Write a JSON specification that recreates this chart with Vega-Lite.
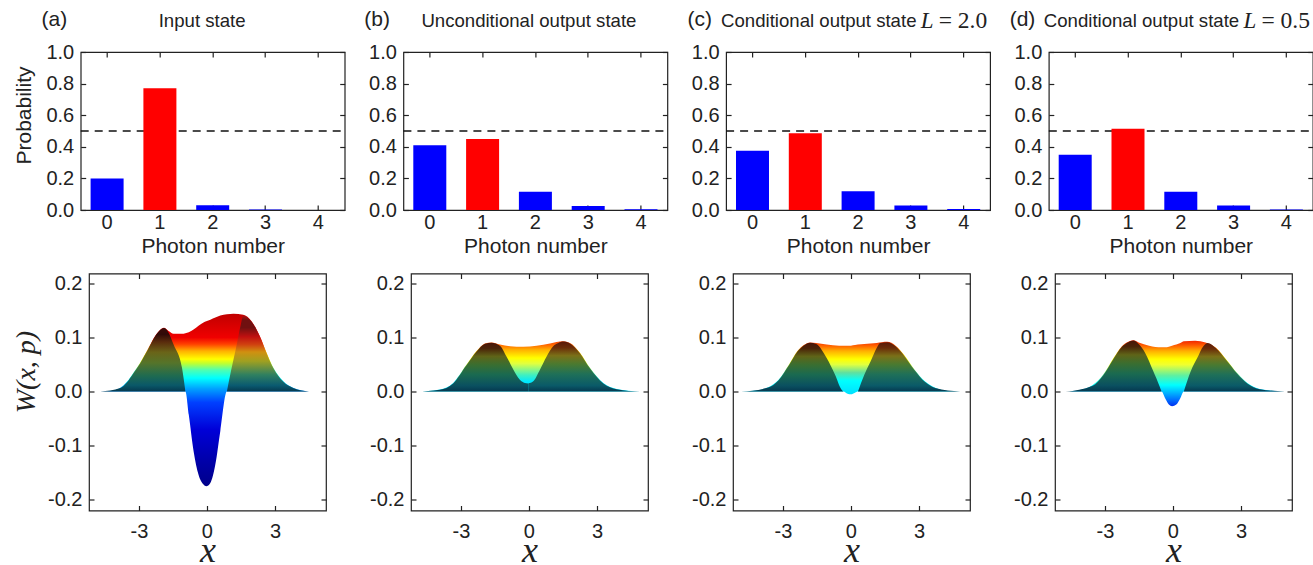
{
"$schema":"https://vega.github.io/schema/vega-lite/v6.json",
"padding":{"left":3,"top":8,"right":0,"bottom":0},
"background":"white",
"bounds":"flush",
"spacing":221.5,
"config":{
"view":{"stroke":"#222","strokeWidth":1.2},
"font":"Liberation Sans",
"title":{"font":"Liberation Sans","fontSize":18.6,"fontWeight":"normal","color":"#222","anchor":"start","frame":"group","baseline":"alphabetic","offset":-21},
"axis":{"grid":false,"domain":false,"tickColor":"#222","tickWidth":1.2,"tickSize":-5,"labelFont":"Liberation Sans","labelFontSize":20,"labelColor":"#222","titleFont":"Liberation Sans","titleFontWeight":"normal","titleFontSize":21,"titleColor":"#222","labelFlush":false,"labelOverlap":false}
},
"datasets":{
"bars":[
{"panel":"a","n":"0","p":0.2},{"panel":"a","n":"1","p":0.77},{"panel":"a","n":"2","p":0.03},{"panel":"a","n":"3","p":0.003},{"panel":"a","n":"4","p":0.0005},
{"panel":"b","n":"0","p":0.41},{"panel":"b","n":"1","p":0.45},{"panel":"b","n":"2","p":0.115},{"panel":"b","n":"3","p":0.025},{"panel":"b","n":"4","p":0.004},
{"panel":"c","n":"0","p":0.375},{"panel":"c","n":"1","p":0.485},{"panel":"c","n":"2","p":0.118},{"panel":"c","n":"3","p":0.028},{"panel":"c","n":"4","p":0.006},
{"panel":"d","n":"0","p":0.35},{"panel":"d","n":"1","p":0.515},{"panel":"d","n":"2","p":0.115},{"panel":"d","n":"3","p":0.028},{"panel":"d","n":"4","p":0.003}
],
"surface":[
{"panel":"a","part":"body","x":-4.7,"top":0,"bottom":0},{"panel":"a","part":"body","x":-4.1,"top":0.002,"bottom":0},{"panel":"a","part":"body","x":-3.82,"top":0.007,"bottom":0},{"panel":"a","part":"body","x":-3.53,"top":0.018,"bottom":0},{"panel":"a","part":"body","x":-3.24,"top":0.035,"bottom":0},{"panel":"a","part":"body","x":-2.95,"top":0.053,"bottom":0},{"panel":"a","part":"body","x":-2.65,"top":0.075,"bottom":0},{"panel":"a","part":"body","x":-2.2,"top":0.108,"bottom":0},{"panel":"a","part":"body","x":-1.9,"top":0.118,"bottom":0},{"panel":"a","part":"body","x":-1.69,"top":0.112,"bottom":0},{"panel":"a","part":"body","x":-1.47,"top":0.107,"bottom":0},{"panel":"a","part":"body","x":-1.03,"top":0.107,"bottom":0},{"panel":"a","part":"body","x":-0.95,"top":0.108,"bottom":0},{"panel":"a","part":"body","x":-0.8,"top":0.11,"bottom":-0.043},{"panel":"a","part":"body","x":-0.59,"top":0.115,"bottom":-0.11},{"panel":"a","part":"body","x":-0.37,"top":0.122,"bottom":-0.154},{"panel":"a","part":"body","x":-0.15,"top":0.128,"bottom":-0.172},{"panel":"a","part":"body","x":-0.03,"top":0.13,"bottom":-0.175},{"panel":"a","part":"body","x":0.15,"top":0.133,"bottom":-0.169},{"panel":"a","part":"body","x":0.37,"top":0.137,"bottom":-0.135},{"panel":"a","part":"body","x":0.59,"top":0.141,"bottom":-0.073},{"panel":"a","part":"body","x":0.88,"top":0.143,"bottom":0},{"panel":"a","part":"body","x":1.17,"top":0.144,"bottom":0},{"panel":"a","part":"body","x":1.6,"top":0.142,"bottom":0},{"panel":"a","part":"body","x":1.97,"top":0.13,"bottom":0},{"panel":"a","part":"body","x":2.34,"top":0.102,"bottom":0},{"panel":"a","part":"body","x":2.63,"top":0.072,"bottom":0},{"panel":"a","part":"body","x":2.93,"top":0.044,"bottom":0},{"panel":"a","part":"body","x":3.37,"top":0.019,"bottom":0},{"panel":"a","part":"body","x":3.8,"top":0.007,"bottom":0},{"panel":"a","part":"body","x":4.5,"top":0,"bottom":0},
{"panel":"a","part":"left","x":-4.7,"top":0,"bottom":0},{"panel":"a","part":"left","x":-3.82,"top":0.0065,"bottom":0},{"panel":"a","part":"left","x":-3.53,"top":0.017,"bottom":0},{"panel":"a","part":"left","x":-3.24,"top":0.034,"bottom":0},{"panel":"a","part":"left","x":-2.95,"top":0.052,"bottom":0},{"panel":"a","part":"left","x":-2.65,"top":0.074,"bottom":0},{"panel":"a","part":"left","x":-2.2,"top":0.1075,"bottom":0},{"panel":"a","part":"left","x":-1.9,"top":0.1175,"bottom":0},{"panel":"a","part":"left","x":-1.69,"top":0.109,"bottom":0},{"panel":"a","part":"left","x":-1.47,"top":0.087,"bottom":0},{"panel":"a","part":"left","x":-1.1,"top":0.044,"bottom":0},{"panel":"a","part":"left","x":-0.95,"top":0,"bottom":0},
{"panel":"a","part":"right","x":0.88,"top":0,"bottom":0},{"panel":"a","part":"right","x":1.06,"top":0.038,"bottom":0},{"panel":"a","part":"right","x":1.28,"top":0.08,"bottom":0},{"panel":"a","part":"right","x":1.5,"top":0.125,"bottom":0},{"panel":"a","part":"right","x":1.6,"top":0.141,"bottom":0},{"panel":"a","part":"right","x":1.97,"top":0.129,"bottom":0},{"panel":"a","part":"right","x":2.34,"top":0.101,"bottom":0},{"panel":"a","part":"right","x":2.63,"top":0.071,"bottom":0},{"panel":"a","part":"right","x":2.93,"top":0.043,"bottom":0},{"panel":"a","part":"right","x":3.37,"top":0.018,"bottom":0},{"panel":"a","part":"right","x":3.8,"top":0.0065,"bottom":0},{"panel":"a","part":"right","x":4.5,"top":0,"bottom":0},

{"panel":"b","part":"body","x":-4.96,"top":0,"bottom":0},{"panel":"b","part":"body","x":-3.93,"top":0.004,"bottom":0},{"panel":"b","part":"body","x":-3.34,"top":0.016,"bottom":0},{"panel":"b","part":"body","x":-2.75,"top":0.05,"bottom":0},{"panel":"b","part":"body","x":-2.31,"top":0.075,"bottom":0},{"panel":"b","part":"body","x":-1.94,"top":0.089,"bottom":0},{"panel":"b","part":"body","x":-1.65,"top":0.091,"bottom":0},{"panel":"b","part":"body","x":-1.28,"top":0.087,"bottom":0},{"panel":"b","part":"body","x":-0.84,"top":0.084,"bottom":0},{"panel":"b","part":"body","x":-0.25,"top":0.083,"bottom":0},{"panel":"b","part":"body","x":0.34,"top":0.085,"bottom":0},{"panel":"b","part":"body","x":0.93,"top":0.089,"bottom":0},{"panel":"b","part":"body","x":1.51,"top":0.093,"bottom":0},{"panel":"b","part":"body","x":1.81,"top":0.09,"bottom":0},{"panel":"b","part":"body","x":2.25,"top":0.072,"bottom":0},{"panel":"b","part":"body","x":2.69,"top":0.044,"bottom":0},{"panel":"b","part":"body","x":3.28,"top":0.016,"bottom":0},{"panel":"b","part":"body","x":3.87,"top":0.005,"bottom":0},{"panel":"b","part":"body","x":4.9,"top":0,"bottom":0},
{"panel":"b","part":"left","x":-4.96,"top":0,"bottom":0},{"panel":"b","part":"left","x":-3.93,"top":0.0035,"bottom":0},{"panel":"b","part":"left","x":-3.34,"top":0.015,"bottom":0},{"panel":"b","part":"left","x":-2.75,"top":0.049,"bottom":0},{"panel":"b","part":"left","x":-2.31,"top":0.074,"bottom":0},{"panel":"b","part":"left","x":-1.94,"top":0.0885,"bottom":0},{"panel":"b","part":"left","x":-1.65,"top":0.0905,"bottom":0},{"panel":"b","part":"left","x":-1.28,"top":0.085,"bottom":0},{"panel":"b","part":"left","x":-0.99,"top":0.065,"bottom":0},{"panel":"b","part":"left","x":-0.69,"top":0.041,"bottom":0},{"panel":"b","part":"left","x":-0.4,"top":0.022,"bottom":0},{"panel":"b","part":"left","x":-0.18,"top":0.016,"bottom":0},{"panel":"b","part":"left","x":-0.03,"top":0.015,"bottom":0},
{"panel":"b","part":"right","x":-0.03,"top":0.015,"bottom":0},{"panel":"b","part":"right","x":0.19,"top":0.019,"bottom":0},{"panel":"b","part":"right","x":0.49,"top":0.041,"bottom":0},{"panel":"b","part":"right","x":0.78,"top":0.065,"bottom":0},{"panel":"b","part":"right","x":1.07,"top":0.084,"bottom":0},{"panel":"b","part":"right","x":1.3,"top":0.09,"bottom":0},{"panel":"b","part":"right","x":1.51,"top":0.0925,"bottom":0},{"panel":"b","part":"right","x":1.81,"top":0.089,"bottom":0},{"panel":"b","part":"right","x":2.25,"top":0.071,"bottom":0},{"panel":"b","part":"right","x":2.69,"top":0.043,"bottom":0},{"panel":"b","part":"right","x":3.28,"top":0.015,"bottom":0},{"panel":"b","part":"right","x":3.87,"top":0.0045,"bottom":0},{"panel":"b","part":"right","x":4.9,"top":0,"bottom":0},

{"panel":"c","part":"body","x":-4.84,"top":0,"bottom":0},{"panel":"c","part":"body","x":-4.2,"top":0.002,"bottom":0},{"panel":"c","part":"body","x":-3.65,"top":0.008,"bottom":0},{"panel":"c","part":"body","x":-3.19,"top":0.022,"bottom":0},{"panel":"c","part":"body","x":-2.73,"top":0.05,"bottom":0},{"panel":"c","part":"body","x":-2.36,"top":0.075,"bottom":0},{"panel":"c","part":"body","x":-2.08,"top":0.086,"bottom":0},{"panel":"c","part":"body","x":-1.8,"top":0.091,"bottom":0},{"panel":"c","part":"body","x":-1.53,"top":0.09,"bottom":0},{"panel":"c","part":"body","x":-1.07,"top":0.087,"bottom":0},{"panel":"c","part":"body","x":-0.52,"top":0.085,"bottom":0},{"panel":"c","part":"body","x":-0.33,"top":0.085,"bottom":0},{"panel":"c","part":"body","x":-0.15,"top":0.085,"bottom":-0.004},{"panel":"c","part":"body","x":0,"top":0.085,"bottom":-0.005},{"panel":"c","part":"body","x":0.18,"top":0.086,"bottom":-0.002},{"panel":"c","part":"body","x":0.31,"top":0.087,"bottom":0},{"panel":"c","part":"body","x":0.59,"top":0.088,"bottom":0},{"panel":"c","part":"body","x":1.14,"top":0.09,"bottom":0},{"panel":"c","part":"body","x":1.6,"top":0.092,"bottom":0},{"panel":"c","part":"body","x":1.97,"top":0.085,"bottom":0},{"panel":"c","part":"body","x":2.34,"top":0.068,"bottom":0},{"panel":"c","part":"body","x":2.8,"top":0.041,"bottom":0},{"panel":"c","part":"body","x":3.26,"top":0.019,"bottom":0},{"panel":"c","part":"body","x":3.72,"top":0.007,"bottom":0},{"panel":"c","part":"body","x":4.27,"top":0.001,"bottom":0},{"panel":"c","part":"body","x":4.82,"top":0,"bottom":0},
{"panel":"c","part":"left","x":-4.84,"top":0,"bottom":0},{"panel":"c","part":"left","x":-3.65,"top":0.0075,"bottom":0},{"panel":"c","part":"left","x":-3.19,"top":0.021,"bottom":0},{"panel":"c","part":"left","x":-2.73,"top":0.049,"bottom":0},{"panel":"c","part":"left","x":-2.36,"top":0.074,"bottom":0},{"panel":"c","part":"left","x":-2.08,"top":0.0855,"bottom":0},{"panel":"c","part":"left","x":-1.8,"top":0.0905,"bottom":0},{"panel":"c","part":"left","x":-1.53,"top":0.088,"bottom":0},{"panel":"c","part":"left","x":-1.07,"top":0.062,"bottom":0},{"panel":"c","part":"left","x":-0.7,"top":0.031,"bottom":0},{"panel":"c","part":"left","x":-0.42,"top":0.004,"bottom":0},{"panel":"c","part":"left","x":-0.33,"top":0,"bottom":0},
{"panel":"c","part":"right","x":0.31,"top":0,"bottom":0},{"panel":"c","part":"right","x":0.59,"top":0.031,"bottom":0},{"panel":"c","part":"right","x":0.87,"top":0.056,"bottom":0},{"panel":"c","part":"right","x":1.14,"top":0.081,"bottom":0},{"panel":"c","part":"right","x":1.29,"top":0.09,"bottom":0},{"panel":"c","part":"right","x":1.6,"top":0.0915,"bottom":0},{"panel":"c","part":"right","x":1.97,"top":0.084,"bottom":0},{"panel":"c","part":"right","x":2.34,"top":0.067,"bottom":0},{"panel":"c","part":"right","x":2.8,"top":0.04,"bottom":0},{"panel":"c","part":"right","x":3.26,"top":0.018,"bottom":0},{"panel":"c","part":"right","x":3.72,"top":0.0065,"bottom":0},{"panel":"c","part":"right","x":4.82,"top":0,"bottom":0},

{"panel":"d","part":"body","x":-4.73,"top":0,"bottom":0},{"panel":"d","part":"body","x":-4.1,"top":0.003,"bottom":0},{"panel":"d","part":"body","x":-3.54,"top":0.012,"bottom":0},{"panel":"d","part":"body","x":-3.08,"top":0.031,"bottom":0},{"panel":"d","part":"body","x":-2.62,"top":0.062,"bottom":0},{"panel":"d","part":"body","x":-2.25,"top":0.084,"bottom":0},{"panel":"d","part":"body","x":-1.97,"top":0.092,"bottom":0},{"panel":"d","part":"body","x":-1.75,"top":0.095,"bottom":0},{"panel":"d","part":"body","x":-1.51,"top":0.091,"bottom":0},{"panel":"d","part":"body","x":-1.05,"top":0.085,"bottom":0},{"panel":"d","part":"body","x":-0.5,"top":0.082,"bottom":0},{"panel":"d","part":"body","x":-0.35,"top":0.082,"bottom":-0.012},{"panel":"d","part":"body","x":-0.18,"top":0.083,"bottom":-0.024},{"panel":"d","part":"body","x":-0.04,"top":0.085,"bottom":-0.027},{"panel":"d","part":"body","x":0.15,"top":0.087,"bottom":-0.024},{"panel":"d","part":"body","x":0.33,"top":0.09,"bottom":-0.012},{"panel":"d","part":"body","x":0.48,"top":0.093,"bottom":0},{"panel":"d","part":"body","x":0.98,"top":0.094,"bottom":0},{"panel":"d","part":"body","x":1.44,"top":0.091,"bottom":0},{"panel":"d","part":"body","x":1.9,"top":0.081,"bottom":0},{"panel":"d","part":"body","x":2.36,"top":0.059,"bottom":0},{"panel":"d","part":"body","x":2.82,"top":0.035,"bottom":0},{"panel":"d","part":"body","x":3.28,"top":0.016,"bottom":0},{"panel":"d","part":"body","x":3.83,"top":0.005,"bottom":0},{"panel":"d","part":"body","x":4.94,"top":0,"bottom":0},
{"panel":"d","part":"left","x":-4.73,"top":0,"bottom":0},{"panel":"d","part":"left","x":-3.54,"top":0.011,"bottom":0},{"panel":"d","part":"left","x":-3.08,"top":0.03,"bottom":0},{"panel":"d","part":"left","x":-2.62,"top":0.061,"bottom":0},{"panel":"d","part":"left","x":-2.25,"top":0.083,"bottom":0},{"panel":"d","part":"left","x":-1.97,"top":0.0915,"bottom":0},{"panel":"d","part":"left","x":-1.75,"top":0.0945,"bottom":0},{"panel":"d","part":"left","x":-1.51,"top":0.088,"bottom":0},{"panel":"d","part":"left","x":-1.23,"top":0.072,"bottom":0},{"panel":"d","part":"left","x":-0.87,"top":0.038,"bottom":0},{"panel":"d","part":"left","x":-0.59,"top":0.01,"bottom":0},{"panel":"d","part":"left","x":-0.5,"top":0,"bottom":0},
{"panel":"d","part":"right","x":0.48,"top":0,"bottom":0},{"panel":"d","part":"right","x":0.79,"top":0.038,"bottom":0},{"panel":"d","part":"right","x":1.07,"top":0.062,"bottom":0},{"panel":"d","part":"right","x":1.34,"top":0.084,"bottom":0},{"panel":"d","part":"right","x":1.53,"top":0.09,"bottom":0},{"panel":"d","part":"right","x":1.9,"top":0.08,"bottom":0},{"panel":"d","part":"right","x":2.36,"top":0.058,"bottom":0},{"panel":"d","part":"right","x":2.82,"top":0.034,"bottom":0},{"panel":"d","part":"right","x":3.28,"top":0.015,"bottom":0},{"panel":"d","part":"right","x":3.83,"top":0.0045,"bottom":0},{"panel":"d","part":"right","x":4.94,"top":0,"bottom":0}
]
},
"vconcat":[
{"hconcat":[
{"width":18.3,"height":1,"view":{"stroke":null},"data":{"values":[]},"mark":"rule","encoding":{}},
{"title":{"text":"Input state","dx":78},"width":264,"height":158,"data":{"name":"bars"},"transform":[{"filter":"datum.panel==='a'"}],
"encoding":{"x":{"field":"n","type":"nominal","axis":null,"scale":{"type":"band","domain":["0","1","2","3","4"],"paddingInner":0.375,"paddingOuter":0.1875}},"y":{"field":"p","type":"quantitative","axis":null,"scale":{"domain":[0,1]}}},
"layer":[
{"data":{"values":[{"threshold":0.5}]},"mark":{"type":"rule","color":"#111","strokeWidth":1.3,"strokeDash":[8,6]},"encoding":{"x":{"value":0},"x2":{"value":264},"y":{"field":"threshold","type":"quantitative"}}},
{"mark":{"type":"bar"},"encoding":{"x":{"field":"n","type":"nominal","title":"Photon number","axis":{"orient":"bottom","labelAngle":0,"labelPadding":7,"titlePadding":3}},"y":{"field":"p","type":"quantitative","title":"Probability","axis":{"orient":"left","values":[0,0.2,0.4,0.6,0.8,1],"format":".1f","labelPadding":12,"titleY":63,"titlePadding":11}},"color":{"field":"n","type":"nominal","legend":null,"scale":{"domain":["0","1","2","3","4"],"range":["#0000ff","#ff0000","#0000ff","#0000ff","#0000ff"]}}}},
{"mark":{"type":"bar","opacity":0},"encoding":{"x":{"field":"n","type":"nominal","axis":{"orient":"top","labels":false,"title":null}},"y":{"field":"p","type":"quantitative","axis":{"orient":"right","labels":false,"title":null,"values":[0,0.2,0.4,0.6,0.8,1]}}}},
{"data":{"values":[{"n":"0","p":1.2,"tag":"(a)"}]},"mark":{"type":"text","dx":-52.7,"baseline":"middle","font":"Liberation Sans","fontSize":21,"color":"#222"},"encoding":{"text":{"field":"tag"}}}
],"resolve":{"axis":{"x":"independent","y":"independent"}}},
{"title":{"text":"Unconditional output state","dx":18},"width":264,"height":158,"data":{"name":"bars"},"transform":[{"filter":"datum.panel==='b'"}],
"encoding":{"x":{"field":"n","type":"nominal","axis":null,"scale":{"type":"band","domain":["0","1","2","3","4"],"paddingInner":0.375,"paddingOuter":0.1875}},"y":{"field":"p","type":"quantitative","axis":null,"scale":{"domain":[0,1]}}},
"layer":[
{"data":{"values":[{"threshold":0.5}]},"mark":{"type":"rule","color":"#111","strokeWidth":1.3,"strokeDash":[8,6]},"encoding":{"x":{"value":0},"x2":{"value":264},"y":{"field":"threshold","type":"quantitative"}}},
{"mark":{"type":"bar"},"encoding":{"x":{"field":"n","type":"nominal","title":"Photon number","axis":{"orient":"bottom","labelAngle":0,"labelPadding":7,"titlePadding":3}},"y":{"field":"p","type":"quantitative","title":null,"axis":{"orient":"left","values":[0,0.2,0.4,0.6,0.8,1],"format":".1f","labelPadding":12}},"color":{"field":"n","type":"nominal","legend":null,"scale":{"domain":["0","1","2","3","4"],"range":["#0000ff","#ff0000","#0000ff","#0000ff","#0000ff"]}}}},
{"mark":{"type":"bar","opacity":0},"encoding":{"x":{"field":"n","type":"nominal","axis":{"orient":"top","labels":false,"title":null}},"y":{"field":"p","type":"quantitative","axis":{"orient":"right","labels":false,"title":null,"values":[0,0.2,0.4,0.6,0.8,1]}}}},
{"data":{"values":[{"n":"0","p":1.2,"tag":"(b)"}]},"mark":{"type":"text","dx":-52.7,"baseline":"middle","font":"Liberation Sans","fontSize":21,"color":"#222"},"encoding":{"text":{"field":"tag"}}}
],"resolve":{"axis":{"x":"independent","y":"independent"}}},
{"title":{"text":"Conditional output state","dx":-5},"width":264,"height":158,"data":{"name":"bars"},"transform":[{"filter":"datum.panel==='c'"}],
"encoding":{"x":{"field":"n","type":"nominal","axis":null,"scale":{"type":"band","domain":["0","1","2","3","4"],"paddingInner":0.375,"paddingOuter":0.1875}},"y":{"field":"p","type":"quantitative","axis":null,"scale":{"domain":[0,1]}}},
"layer":[
{"data":{"values":[{"threshold":0.5}]},"mark":{"type":"rule","color":"#111","strokeWidth":1.3,"strokeDash":[8,6]},"encoding":{"x":{"value":0},"x2":{"value":264},"y":{"field":"threshold","type":"quantitative"}}},
{"mark":{"type":"bar"},"encoding":{"x":{"field":"n","type":"nominal","title":"Photon number","axis":{"orient":"bottom","labelAngle":0,"labelPadding":7,"titlePadding":3}},"y":{"field":"p","type":"quantitative","title":null,"axis":{"orient":"left","values":[0,0.2,0.4,0.6,0.8,1],"format":".1f","labelPadding":12}},"color":{"field":"n","type":"nominal","legend":null,"scale":{"domain":["0","1","2","3","4"],"range":["#0000ff","#ff0000","#0000ff","#0000ff","#0000ff"]}}}},
{"mark":{"type":"bar","opacity":0},"encoding":{"x":{"field":"n","type":"nominal","axis":{"orient":"top","labels":false,"title":null}},"y":{"field":"p","type":"quantitative","axis":{"orient":"right","labels":false,"title":null,"values":[0,0.2,0.4,0.6,0.8,1]}}}},
{"data":{"values":[{"n":"0","p":1.2,"tag":"(c)"}]},"mark":{"type":"text","dx":-52.7,"baseline":"middle","font":"Liberation Sans","fontSize":21,"color":"#222"},"encoding":{"text":{"field":"tag"}}},
{"data":{"values":[{"n":"4","p":1.15,"tag":"L"}]},"mark":{"type":"text","dx":-43,"align":"left","baseline":"alphabetic","font":"Liberation Serif","fontStyle":"italic","fontSize":23,"color":"#222"},"encoding":{"text":{"field":"tag"}}},
{"data":{"values":[{"n":"4","p":1.15,"tag":"= 2.0"}]},"mark":{"type":"text","dx":-25,"align":"left","baseline":"alphabetic","font":"Liberation Serif","fontSize":23.5,"color":"#222"},"encoding":{"text":{"field":"tag"}}}
],"resolve":{"axis":{"x":"independent","y":"independent"}}},
{"title":{"text":"Conditional output state","dx":-5},"width":264,"height":158,"data":{"name":"bars"},"transform":[{"filter":"datum.panel==='d'"}],
"encoding":{"x":{"field":"n","type":"nominal","axis":null,"scale":{"type":"band","domain":["0","1","2","3","4"],"paddingInner":0.375,"paddingOuter":0.1875}},"y":{"field":"p","type":"quantitative","axis":null,"scale":{"domain":[0,1]}}},
"layer":[
{"data":{"values":[{"threshold":0.5}]},"mark":{"type":"rule","color":"#111","strokeWidth":1.3,"strokeDash":[8,6]},"encoding":{"x":{"value":0},"x2":{"value":264},"y":{"field":"threshold","type":"quantitative"}}},
{"mark":{"type":"bar"},"encoding":{"x":{"field":"n","type":"nominal","title":"Photon number","axis":{"orient":"bottom","labelAngle":0,"labelPadding":7,"titlePadding":3}},"y":{"field":"p","type":"quantitative","title":null,"axis":{"orient":"left","values":[0,0.2,0.4,0.6,0.8,1],"format":".1f","labelPadding":12}},"color":{"field":"n","type":"nominal","legend":null,"scale":{"domain":["0","1","2","3","4"],"range":["#0000ff","#ff0000","#0000ff","#0000ff","#0000ff"]}}}},
{"mark":{"type":"bar","opacity":0},"encoding":{"x":{"field":"n","type":"nominal","axis":{"orient":"top","labels":false,"title":null}},"y":{"field":"p","type":"quantitative","axis":{"orient":"right","labels":false,"title":null,"values":[0,0.2,0.4,0.6,0.8,1]}}}},
{"data":{"values":[{"n":"0","p":1.2,"tag":"(d)"}]},"mark":{"type":"text","dx":-52.7,"baseline":"middle","font":"Liberation Sans","fontSize":21,"color":"#222"},"encoding":{"text":{"field":"tag"}}},
{"data":{"values":[{"n":"4","p":1.15,"tag":"L"}]},"mark":{"type":"text","dx":-43,"align":"left","baseline":"alphabetic","font":"Liberation Serif","fontStyle":"italic","fontSize":23,"color":"#222"},"encoding":{"text":{"field":"tag"}}},
{"data":{"values":[{"n":"4","p":1.15,"tag":"= 0.5"}]},"mark":{"type":"text","dx":-25,"align":"left","baseline":"alphabetic","font":"Liberation Serif","fontSize":23.5,"color":"#222"},"encoding":{"text":{"field":"tag"}}}
],"resolve":{"axis":{"x":"independent","y":"independent"}}}
],"bounds":"flush","spacing":58.7},
{"hconcat":[
{"width":1,"height":1,"view":{"stroke":null},"data":{"values":[]},"mark":"rule","encoding":{}},
{"width":237,"height":237,"data":{"name":"surface"},"transform":[{"filter":"datum.panel==='a'"}],
"encoding":{"x":{"field":"x","type":"quantitative","axis":null,"scale":{"domain":[-5.2,5.25]}},"y":{"field":"top","type":"quantitative","axis":null,"scale":{"domain":[-0.22,0.2185]}},"y2":{"field":"bottom"}},
"layer":[
{"transform":[{"filter":"datum.part==='body'"}],"mark":{"type":"area","interpolate":"monotone","color":{"gradient":"linear","x1":0,"y1":1,"x2":0,"y2":0,"stops":[{"offset":0,"color":"#00008a"},{"offset":0.141,"color":"#0000a8"},{"offset":0.329,"color":"#0000d8"},{"offset":0.486,"color":"#0040ff"},{"offset":0.564,"color":"#00a0ff"},{"offset":0.627,"color":"#00ffff"},{"offset":0.674,"color":"#50ffb0"},{"offset":0.712,"color":"#c0ff30"},{"offset":0.737,"color":"#ffff00"},{"offset":0.784,"color":"#ffb000"},{"offset":0.824,"color":"#ff4000"},{"offset":0.862,"color":"#f00000"},{"offset":1,"color":"#c00000"}]}},
"encoding":{"x":{"field":"x","type":"quantitative","title":"x","axis":{"orient":"bottom","values":[-3,0,3],"labelPadding":16,"labelExpr":"replace(format(datum.value,'d'),'\u2212','-')","titleFont":"Liberation Serif","titleFontStyle":"italic","titleFontSize":36,"titlePadding":-8}},"y":{"field":"top","type":"quantitative","title":"W(x, p)","axis":{"orient":"left","values":[-0.2,-0.1,0,0.1,0.2],"labelExpr":"replace(format(datum.value,'.1f'),'\u2212','-')","labelPadding":12,"titleFont":"Liberation Serif","titleFontStyle":"italic","titleFontSize":28,"titlePadding":7,"titleY":98}}}},
{"transform":[{"filter":"datum.part==='left'"}],"mark":{"type":"area","interpolate":"monotone","color":{"gradient":"linear","x1":0,"y1":1,"x2":0,"y2":0,"stops":[{"offset":0,"color":"#05384f"},{"offset":0.1,"color":"#0a5868"},{"offset":0.25,"color":"#1f6b50"},{"offset":0.45,"color":"#55742a"},{"offset":0.62,"color":"#6a6418"},{"offset":0.78,"color":"#5a2c0c"},{"offset":0.9,"color":"#300a08"},{"offset":1,"color":"#3a0a08"}]}}},
{"transform":[{"filter":"datum.part==='right'"}],"mark":{"type":"area","interpolate":"monotone","color":{"gradient":"linear","x1":0,"y1":1,"x2":0,"y2":0,"stops":[{"offset":0,"color":"#05384f"},{"offset":0.08,"color":"#0a5a70"},{"offset":0.22,"color":"#2f8060"},{"offset":0.4,"color":"#a0a020"},{"offset":0.52,"color":"#d09010"},{"offset":0.62,"color":"#d04010"},{"offset":0.72,"color":"#c01010"},{"offset":0.84,"color":"#701010"},{"offset":0.94,"color":"#701010"},{"offset":1,"color":"#b01010"}]}}},
{"transform":[{"filter":"datum.part==='body'"}],"mark":{"type":"area","opacity":0},"encoding":{"x":{"field":"x","type":"quantitative","axis":{"orient":"top","labels":false,"title":null,"values":[-3,0,3]}},"y":{"field":"top","type":"quantitative","axis":{"orient":"right","labels":false,"title":null,"values":[-0.2,-0.1,0,0.1,0.2]}}}}
],"resolve":{"axis":{"x":"independent","y":"independent"}}},
{"width":237,"height":237,"data":{"name":"surface"},"transform":[{"filter":"datum.panel==='b'"}],
"encoding":{"x":{"field":"x","type":"quantitative","axis":null,"scale":{"domain":[-5.2,5.25]}},"y":{"field":"top","type":"quantitative","axis":null,"scale":{"domain":[-0.22,0.2185]}},"y2":{"field":"bottom"}},
"layer":[
{"transform":[{"filter":"datum.part==='body'"}],"mark":{"type":"area","interpolate":"monotone","color":{"gradient":"linear","x1":0,"y1":1,"x2":0,"y2":0,"stops":[{"offset":0,"color":"#00e8ff"},{"offset":0.2,"color":"#00e8ff"},{"offset":0.33,"color":"#40f0c0"},{"offset":0.556,"color":"#e0ff40"},{"offset":0.667,"color":"#ffff00"},{"offset":0.833,"color":"#ffb000"},{"offset":0.94,"color":"#ff6000"},{"offset":1,"color":"#f04000"}]}},
"encoding":{"x":{"field":"x","type":"quantitative","title":"x","axis":{"orient":"bottom","values":[-3,0,3],"labelPadding":16,"labelExpr":"replace(format(datum.value,'d'),'\u2212','-')","titleFont":"Liberation Serif","titleFontStyle":"italic","titleFontSize":36,"titlePadding":-8}},"y":{"field":"top","type":"quantitative","title":null,"axis":{"orient":"left","values":[-0.2,-0.1,0,0.1,0.2],"labelExpr":"replace(format(datum.value,'.1f'),'\u2212','-')","labelPadding":12}}}},
{"transform":[{"filter":"datum.part==='left'"}],"mark":{"type":"area","interpolate":"monotone","color":{"gradient":"linear","x1":0,"y1":1,"x2":0,"y2":0,"stops":[{"offset":0,"color":"#05384f"},{"offset":0.12,"color":"#0a5060"},{"offset":0.35,"color":"#1a6a50"},{"offset":0.55,"color":"#3a6e30"},{"offset":0.72,"color":"#5f6418"},{"offset":0.88,"color":"#4a2408"},{"offset":1,"color":"#4a1408"}]}}},
{"transform":[{"filter":"datum.part==='right'"}],"mark":{"type":"area","interpolate":"monotone","color":{"gradient":"linear","x1":0,"y1":1,"x2":0,"y2":0,"stops":[{"offset":0,"color":"#05384f"},{"offset":0.12,"color":"#0a5a68"},{"offset":0.35,"color":"#1f7058"},{"offset":0.55,"color":"#4a7a30"},{"offset":0.72,"color":"#7a7018"},{"offset":0.88,"color":"#6a2c08"},{"offset":1,"color":"#5a1808"}]}}},
{"transform":[{"filter":"datum.part==='body'"}],"mark":{"type":"area","opacity":0},"encoding":{"x":{"field":"x","type":"quantitative","axis":{"orient":"top","labels":false,"title":null,"values":[-3,0,3]}},"y":{"field":"top","type":"quantitative","axis":{"orient":"right","labels":false,"title":null,"values":[-0.2,-0.1,0,0.1,0.2]}}}}
],"resolve":{"axis":{"x":"independent","y":"independent"}}},
{"width":237,"height":237,"data":{"name":"surface"},"transform":[{"filter":"datum.panel==='c'"}],
"encoding":{"x":{"field":"x","type":"quantitative","axis":null,"scale":{"domain":[-5.2,5.25]}},"y":{"field":"top","type":"quantitative","axis":null,"scale":{"domain":[-0.22,0.2185]}},"y2":{"field":"bottom"}},
"layer":[
{"transform":[{"filter":"datum.part==='body'"}],"mark":{"type":"area","interpolate":"monotone","color":{"gradient":"linear","x1":0,"y1":1,"x2":0,"y2":0,"stops":[{"offset":0,"color":"#00e0ff"},{"offset":0.258,"color":"#00ffff"},{"offset":0.412,"color":"#60e0a0"},{"offset":0.567,"color":"#e0ff40"},{"offset":0.67,"color":"#ffff00"},{"offset":0.825,"color":"#ffb000"},{"offset":0.93,"color":"#ff6000"},{"offset":1,"color":"#f03000"}]}},
"encoding":{"x":{"field":"x","type":"quantitative","title":"x","axis":{"orient":"bottom","values":[-3,0,3],"labelPadding":16,"labelExpr":"replace(format(datum.value,'d'),'\u2212','-')","titleFont":"Liberation Serif","titleFontStyle":"italic","titleFontSize":36,"titlePadding":-8}},"y":{"field":"top","type":"quantitative","title":null,"axis":{"orient":"left","values":[-0.2,-0.1,0,0.1,0.2],"labelExpr":"replace(format(datum.value,'.1f'),'\u2212','-')","labelPadding":12}}}},
{"transform":[{"filter":"datum.part==='left'"}],"mark":{"type":"area","interpolate":"monotone","color":{"gradient":"linear","x1":0,"y1":1,"x2":0,"y2":0,"stops":[{"offset":0,"color":"#05384f"},{"offset":0.12,"color":"#0a5060"},{"offset":0.35,"color":"#1a6a50"},{"offset":0.55,"color":"#3a6e30"},{"offset":0.72,"color":"#5f6418"},{"offset":0.88,"color":"#4a2408"},{"offset":1,"color":"#4a1408"}]}}},
{"transform":[{"filter":"datum.part==='right'"}],"mark":{"type":"area","interpolate":"monotone","color":{"gradient":"linear","x1":0,"y1":1,"x2":0,"y2":0,"stops":[{"offset":0,"color":"#05384f"},{"offset":0.12,"color":"#0a5a68"},{"offset":0.35,"color":"#1f7058"},{"offset":0.55,"color":"#4a7a30"},{"offset":0.72,"color":"#7a7018"},{"offset":0.88,"color":"#6a2c08"},{"offset":1,"color":"#5a1808"}]}}},
{"transform":[{"filter":"datum.part==='body'"}],"mark":{"type":"area","opacity":0},"encoding":{"x":{"field":"x","type":"quantitative","axis":{"orient":"top","labels":false,"title":null,"values":[-3,0,3]}},"y":{"field":"top","type":"quantitative","axis":{"orient":"right","labels":false,"title":null,"values":[-0.2,-0.1,0,0.1,0.2]}}}}
],"resolve":{"axis":{"x":"independent","y":"independent"}}},
{"width":237,"height":237,"data":{"name":"surface"},"transform":[{"filter":"datum.panel==='d'"}],
"encoding":{"x":{"field":"x","type":"quantitative","axis":null,"scale":{"domain":[-5.2,5.25]}},"y":{"field":"top","type":"quantitative","axis":null,"scale":{"domain":[-0.22,0.2185]}},"y2":{"field":"bottom"}},
"layer":[
{"transform":[{"filter":"datum.part==='body'"}],"mark":{"type":"area","interpolate":"monotone","color":{"gradient":"linear","x1":0,"y1":1,"x2":0,"y2":0,"stops":[{"offset":0,"color":"#0030f0"},{"offset":0.098,"color":"#0070ff"},{"offset":0.221,"color":"#00c0ff"},{"offset":0.32,"color":"#00ffff"},{"offset":0.467,"color":"#60f0a0"},{"offset":0.63,"color":"#f0ff30"},{"offset":0.713,"color":"#ffff00"},{"offset":0.836,"color":"#ffb000"},{"offset":0.918,"color":"#ff6000"},{"offset":1,"color":"#f02000"}]}},
"encoding":{"x":{"field":"x","type":"quantitative","title":"x","axis":{"orient":"bottom","values":[-3,0,3],"labelPadding":16,"labelExpr":"replace(format(datum.value,'d'),'\u2212','-')","titleFont":"Liberation Serif","titleFontStyle":"italic","titleFontSize":36,"titlePadding":-8}},"y":{"field":"top","type":"quantitative","title":null,"axis":{"orient":"left","values":[-0.2,-0.1,0,0.1,0.2],"labelExpr":"replace(format(datum.value,'.1f'),'\u2212','-')","labelPadding":12}}}},
{"transform":[{"filter":"datum.part==='left'"}],"mark":{"type":"area","interpolate":"monotone","color":{"gradient":"linear","x1":0,"y1":1,"x2":0,"y2":0,"stops":[{"offset":0,"color":"#05384f"},{"offset":0.12,"color":"#0a5060"},{"offset":0.35,"color":"#1a6a50"},{"offset":0.55,"color":"#3a6e30"},{"offset":0.72,"color":"#5f6418"},{"offset":0.88,"color":"#4a2408"},{"offset":1,"color":"#4a1408"}]}}},
{"transform":[{"filter":"datum.part==='right'"}],"mark":{"type":"area","interpolate":"monotone","color":{"gradient":"linear","x1":0,"y1":1,"x2":0,"y2":0,"stops":[{"offset":0,"color":"#05384f"},{"offset":0.12,"color":"#0a5a68"},{"offset":0.35,"color":"#1f7058"},{"offset":0.55,"color":"#4a7a30"},{"offset":0.72,"color":"#7a7018"},{"offset":0.88,"color":"#6a2c08"},{"offset":1,"color":"#5a1808"}]}}},
{"transform":[{"filter":"datum.part==='body'"}],"mark":{"type":"area","opacity":0},"encoding":{"x":{"field":"x","type":"quantitative","axis":{"orient":"top","labels":false,"title":null,"values":[-3,0,3]}},"y":{"field":"top","type":"quantitative","axis":{"orient":"right","labels":false,"title":null,"values":[-0.2,-0.1,0,0.1,0.2]}}}}
],"resolve":{"axis":{"x":"independent","y":"independent"}}}
],"bounds":"flush","spacing":85}
]
}
